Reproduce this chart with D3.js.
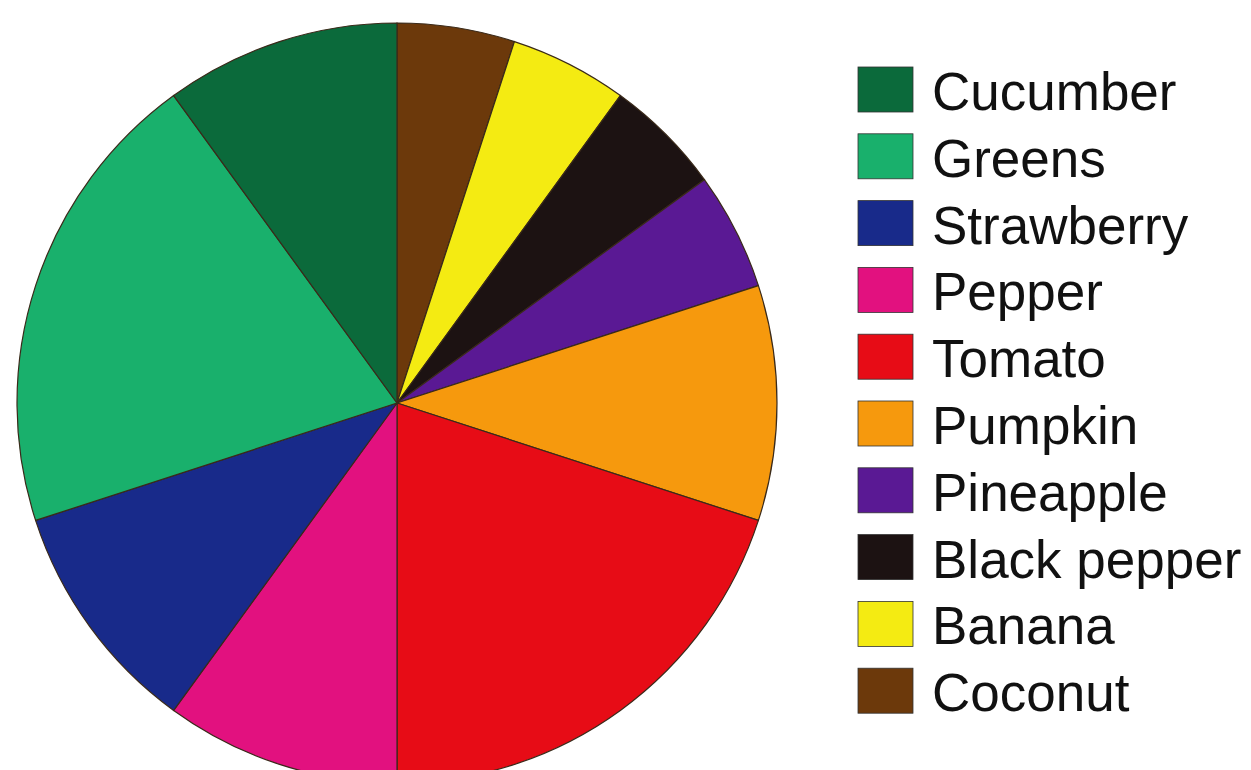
<!DOCTYPE html>
<html><head><meta charset="utf-8">
<script src="https://cdn.jsdelivr.net/npm/d3@7"></script>
<style>html,body{margin:0;padding:0;background:#fff;overflow:hidden}</style>
</head><body>
<svg id="chart" width="1251" height="770"></svg>
<script>
const categories = ["Cucumber","Greens","Strawberry","Pepper","Tomato","Pumpkin","Pineapple","Black pepper","Banana","Coconut"];
const values = [10,20,10,10,20,10,5,5,5,5];
const colors = ["#0b6a3b","#19b06c","#182a8a","#e2117f","#e70c16","#f6990d","#5a1994","#1c1212","#f4eb12","#6c390b"];

const svg = d3.select("#chart");
const cx = 397, cy = 403, r = 380;
// pie drawn clockwise from 12 o'clock, starting with the last legend item
const order = d3.range(categories.length).reverse();
const pie = d3.pie().sort(null).value(i => values[i]);
const arc = d3.arc().innerRadius(0).outerRadius(r);
const g = svg.append("g").attr("transform", `translate(${cx},${cy})`);
g.selectAll("path").data(pie(order)).join("path")
  .attr("d", arc)
  .attr("fill", d => colors[d.data])
  .attr("stroke", "#3a2a1a")
  .attr("stroke-width", 1.2);

const y = d3.scaleBand().domain(categories).range([67, 67 + 66.8 * categories.length]).paddingInner(0);
const lg = svg.append("g");
const items = lg.selectAll("g").data(categories).join("g")
  .attr("transform", d => `translate(858,${y(d)})`);
items.append("rect").attr("width", 55).attr("height", 45)
  .attr("fill", (d,i) => colors[i]).attr("stroke", "#333").attr("stroke-width", 0.8);
items.append("text").attr("x", 74).attr("y", 43)
  .attr("font-family", "Liberation Sans, Arial, sans-serif")
  .attr("font-size", 53).attr("fill", "#111")
  .text(d => d);
</script>
</body></html>
